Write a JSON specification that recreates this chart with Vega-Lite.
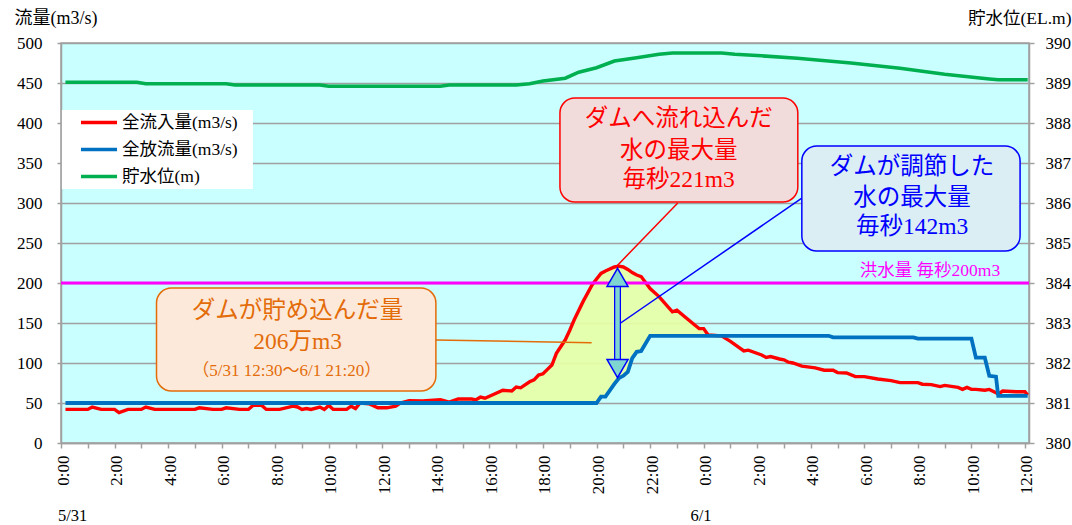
{"$schema":"https://vega.github.io/schema/vega-lite/v6.json","autosize":"none","width":968,"height":400,"padding":{"left":61,"top":43,"right":43,"bottom":82},"background":"white",
"config":{"font":"Liberation Serif, Noto Sans CJK JP","view":{"fill":"#c9ffff","stroke":"#a0a0a0","strokeWidth":1.5}},
"datasets":{
"flow":[
{"t":"2021-05-31T00:10","inflow":42,"outflow":50},{"t":"2021-05-31T01:00","inflow":42,"outflow":50},{"t":"2021-05-31T01:10","inflow":45,"outflow":50},{"t":"2021-05-31T01:30","inflow":42,"outflow":50},{"t":"2021-05-31T02:00","inflow":42,"outflow":50},{"t":"2021-05-31T02:10","inflow":38,"outflow":50},{"t":"2021-05-31T02:30","inflow":42,"outflow":50},{"t":"2021-05-31T03:00","inflow":42,"outflow":50},{"t":"2021-05-31T03:10","inflow":45,"outflow":50},{"t":"2021-05-31T03:30","inflow":42,"outflow":50},{"t":"2021-05-31T05:00","inflow":42,"outflow":50},{"t":"2021-05-31T05:10","inflow":44,"outflow":50},{"t":"2021-05-31T05:40","inflow":42,"outflow":50},{"t":"2021-05-31T06:00","inflow":42,"outflow":50},{"t":"2021-05-31T06:10","inflow":44,"outflow":50},{"t":"2021-05-31T06:40","inflow":42,"outflow":50},{"t":"2021-05-31T07:00","inflow":42,"outflow":50},{"t":"2021-05-31T07:10","inflow":47,"outflow":50},{"t":"2021-05-31T07:30","inflow":47,"outflow":50},{"t":"2021-05-31T07:40","inflow":42,"outflow":50},{"t":"2021-05-31T08:10","inflow":42,"outflow":50},{"t":"2021-05-31T08:40","inflow":46,"outflow":50},{"t":"2021-05-31T08:50","inflow":45,"outflow":50},{"t":"2021-05-31T09:00","inflow":42,"outflow":50},{"t":"2021-05-31T09:10","inflow":43,"outflow":50},{"t":"2021-05-31T09:20","inflow":42,"outflow":50},{"t":"2021-05-31T09:40","inflow":45,"outflow":50},{"t":"2021-05-31T09:50","inflow":42,"outflow":50},{"t":"2021-05-31T10:00","inflow":47,"outflow":50},{"t":"2021-05-31T10:10","inflow":42,"outflow":50},{"t":"2021-05-31T10:40","inflow":42,"outflow":50},{"t":"2021-05-31T10:50","inflow":46,"outflow":50},{"t":"2021-05-31T11:00","inflow":43,"outflow":50},{"t":"2021-05-31T11:10","inflow":50,"outflow":50},{"t":"2021-05-31T11:30","inflow":49,"outflow":50},{"t":"2021-05-31T11:50","inflow":44,"outflow":50},{"t":"2021-05-31T12:10","inflow":44,"outflow":50},{"t":"2021-05-31T12:30","inflow":46,"outflow":50},{"t":"2021-05-31T12:40","inflow":50,"outflow":50},{"t":"2021-05-31T13:00","inflow":53,"outflow":50},{"t":"2021-05-31T13:30","inflow":52.5,"outflow":50},{"t":"2021-05-31T14:10","inflow":54,"outflow":50},{"t":"2021-05-31T14:30","inflow":51,"outflow":50},{"t":"2021-05-31T14:50","inflow":55,"outflow":50},{"t":"2021-05-31T15:20","inflow":55,"outflow":50},{"t":"2021-05-31T15:30","inflow":54,"outflow":50},{"t":"2021-05-31T15:40","inflow":57.5,"outflow":50},{"t":"2021-05-31T15:50","inflow":56,"outflow":50},{"t":"2021-05-31T16:10","inflow":61,"outflow":50},{"t":"2021-05-31T16:30","inflow":66,"outflow":50},{"t":"2021-05-31T16:50","inflow":65,"outflow":50},{"t":"2021-05-31T17:00","inflow":70,"outflow":50},{"t":"2021-05-31T17:10","inflow":69,"outflow":50},{"t":"2021-05-31T17:30","inflow":76.6,"outflow":50},{"t":"2021-05-31T17:40","inflow":79,"outflow":50},{"t":"2021-05-31T17:50","inflow":85,"outflow":50},{"t":"2021-05-31T18:00","inflow":86.5,"outflow":50},{"t":"2021-05-31T18:10","inflow":92,"outflow":50},{"t":"2021-05-31T18:20","inflow":97.5,"outflow":50},{"t":"2021-05-31T18:30","inflow":112,"outflow":50},{"t":"2021-05-31T18:50","inflow":129,"outflow":50},{"t":"2021-05-31T19:00","inflow":141,"outflow":50},{"t":"2021-05-31T19:10","inflow":154,"outflow":50},{"t":"2021-05-31T19:30","inflow":177,"outflow":50},{"t":"2021-05-31T19:50","inflow":197.5,"outflow":50},{"t":"2021-05-31T20:00","inflow":205,"outflow":50},{"t":"2021-05-31T20:10","inflow":212,"outflow":58},{"t":"2021-05-31T20:20","inflow":215,"outflow":58},{"t":"2021-05-31T20:40","inflow":220,"outflow":74},{"t":"2021-05-31T20:50","inflow":221,"outflow":81},{"t":"2021-05-31T21:00","inflow":220,"outflow":84},{"t":"2021-05-31T21:10","inflow":217,"outflow":89},{"t":"2021-05-31T21:20","inflow":213,"outflow":106},{"t":"2021-05-31T21:30","inflow":210,"outflow":114},{"t":"2021-05-31T21:40","inflow":208,"outflow":115},{"t":"2021-05-31T22:00","inflow":193,"outflow":134},{"t":"2021-05-31T22:20","inflow":183,"outflow":134},{"t":"2021-05-31T22:50","inflow":164,"outflow":134},{"t":"2021-05-31T23:00","inflow":166,"outflow":134},{"t":"2021-05-31T23:40","inflow":147.5,"outflow":134},{"t":"2021-05-31T23:50","inflow":143,"outflow":134},{"t":"2021-06-01T00:00","inflow":143,"outflow":134},{"t":"2021-06-01T00:10","inflow":135,"outflow":134},{"t":"2021-06-01T00:40","inflow":134,"outflow":134},{"t":"2021-06-01T01:00","inflow":127,"outflow":134},{"t":"2021-06-01T01:30","inflow":115,"outflow":134},{"t":"2021-06-01T01:40","inflow":116,"outflow":134},{"t":"2021-06-01T02:10","inflow":110,"outflow":134},{"t":"2021-06-01T02:20","inflow":107,"outflow":134},{"t":"2021-06-01T02:30","inflow":108,"outflow":134},{"t":"2021-06-01T02:50","inflow":105,"outflow":134},{"t":"2021-06-01T03:00","inflow":104,"outflow":134},{"t":"2021-06-01T03:10","inflow":101,"outflow":134},{"t":"2021-06-01T03:20","inflow":100,"outflow":134},{"t":"2021-06-01T03:40","inflow":96,"outflow":134},{"t":"2021-06-01T04:10","inflow":94,"outflow":134},{"t":"2021-06-01T04:30","inflow":91,"outflow":134},{"t":"2021-06-01T04:40","inflow":91,"outflow":134},{"t":"2021-06-01T04:50","inflow":91,"outflow":132},{"t":"2021-06-01T05:00","inflow":88,"outflow":132},{"t":"2021-06-01T05:20","inflow":87.5,"outflow":132},{"t":"2021-06-01T05:40","inflow":83,"outflow":132},{"t":"2021-06-01T06:00","inflow":83,"outflow":132},{"t":"2021-06-01T06:30","inflow":80,"outflow":132},{"t":"2021-06-01T07:00","inflow":78,"outflow":132},{"t":"2021-06-01T07:20","inflow":75.5,"outflow":132},{"t":"2021-06-01T07:50","inflow":75.5,"outflow":132},{"t":"2021-06-01T08:00","inflow":75.5,"outflow":130.5},{"t":"2021-06-01T08:10","inflow":73.5,"outflow":130.5},{"t":"2021-06-01T08:30","inflow":73,"outflow":130.5},{"t":"2021-06-01T08:50","inflow":70.5,"outflow":130.5},{"t":"2021-06-01T09:00","inflow":72,"outflow":130.5},{"t":"2021-06-01T09:30","inflow":69.5,"outflow":130.5},{"t":"2021-06-01T09:40","inflow":67,"outflow":130.5},{"t":"2021-06-01T09:50","inflow":69.5,"outflow":130.5},{"t":"2021-06-01T10:00","inflow":67,"outflow":130.5},{"t":"2021-06-01T10:10","inflow":67,"outflow":106.6},{"t":"2021-06-01T10:30","inflow":66,"outflow":106.6},{"t":"2021-06-01T10:40","inflow":67,"outflow":84},{"t":"2021-06-01T10:55","inflow":63,"outflow":83},{"t":"2021-06-01T11:00","inflow":61,"outflow":59},{"t":"2021-06-01T11:10","inflow":65,"outflow":59},{"t":"2021-06-01T11:40","inflow":64,"outflow":59},{"t":"2021-06-01T12:00","inflow":64,"outflow":59},{"t":"2021-06-01T12:06","inflow":60,"outflow":59}
],
"level":[
{"t":"2021-05-31T00:10","level":389.02},{"t":"2021-05-31T02:50","level":389.02},{"t":"2021-05-31T03:10","level":388.98},{"t":"2021-05-31T06:10","level":388.98},{"t":"2021-05-31T06:30","level":388.95},{"t":"2021-05-31T09:40","level":388.95},{"t":"2021-05-31T10:00","level":388.92},{"t":"2021-05-31T14:10","level":388.92},{"t":"2021-05-31T14:30","level":388.95},{"t":"2021-05-31T17:00","level":388.95},{"t":"2021-05-31T17:30","level":388.98},{"t":"2021-05-31T18:00","level":389.05},{"t":"2021-05-31T18:50","level":389.12},{"t":"2021-05-31T19:20","level":389.27},{"t":"2021-05-31T20:00","level":389.38},{"t":"2021-05-31T20:40","level":389.55},{"t":"2021-05-31T21:30","level":389.63},{"t":"2021-05-31T22:20","level":389.72},{"t":"2021-05-31T22:50","level":389.75},{"t":"2021-06-01T00:40","level":389.75},{"t":"2021-06-01T01:10","level":389.72},{"t":"2021-06-01T02:10","level":389.68},{"t":"2021-06-01T03:30","level":389.62},{"t":"2021-06-01T05:30","level":389.5},{"t":"2021-06-01T07:20","level":389.37},{"t":"2021-06-01T09:00","level":389.22},{"t":"2021-06-01T10:40","level":389.1},{"t":"2021-06-01T11:00","level":389.08},{"t":"2021-06-01T12:06","level":389.08}
]},
"layer":[
{"data":{"values":[{"t":"2021-05-31T00:02","t2":"2021-05-31T07:10","v":416.25,"v2":317.5}]},"mark":{"type":"rect","fill":"#ffffff"},"encoding":{"x":{"field":"t","type":"temporal"},"x2":{"field":"t2"},"y":{"field":"v","type":"quantitative","scale":{"domain":[0,500],"nice":false},"axis":null},"y2":{"field":"v2"}}},
{"data":{"name":"flow"},"transform":[{"filter":{"field":"t","range":[{"year":2021,"month":5,"date":31,"hours":12,"minutes":40},{"year":2021,"month":6,"date":1,"hours":0,"minutes":40}]}}],"mark":{"type":"area","fill":"#e6ffa6","opacity":0.92},"encoding":{"x":{"field":"t","type":"temporal"},"y":{"field":"inflow","type":"quantitative","scale":{"domain":[0,500],"nice":false},"axis":null},"y2":{"field":"outflow"}}},
{"data":{"name":"flow"},"mark":{"type":"line","strokeWidth":3.4},"encoding":{
"x":{"field":"t","type":"temporal","title":null,"scale":{"domain":[{"year":2021,"month":5,"date":31,"hours":0,"minutes":0},{"year":2021,"month":6,"date":1,"hours":12,"minutes":9}]},"axis":{"format":"%-H:%M","tickCount":36,"labelExpr":"hours(datum.value)%2==0?datum.label:''","labelAngle":-90,"labelFontSize":17,"labelColor":"#000","labelOverlap":false,"labelPadding":7,"labelOffset":2,"tickColor":"#a0a0a0","tickWidth":1.5,"tickSize":5,"domainColor":"#a0a0a0","domainWidth":1.5,"grid":false,"encoding":{"ticks":{"update":{"y":{"signal":"hours(datum.value)%2==0?-5:0"}}}}}},
"y":{"field":"inflow","type":"quantitative","scale":{"domain":[0,500],"nice":false},"axis":{"values":[0,50,100,150,200,250,300,350,400,450,500],"title":"流量(m3/s)","titleFontSize":18,"titleFontWeight":"normal","titleColor":"#000","titleAngle":0,"titleAlign":"left","titleBaseline":"middle","titleX":-47,"titleY":-25,"labelFontSize":17,"labelColor":"#000","labelPadding":15,"tickSize":4,"tickColor":"#a0a0a0","tickWidth":1.5,"domainColor":"#a0a0a0","domainWidth":1.5,"grid":true,"gridColor":"#a0a0a0","gridWidth":1.5}},
"color":{"datum":"全流入量(m3/s)","scale":{"domain":["全流入量(m3/s)","全放流量(m3/s)","貯水位(m)"],"range":["#ff0000","#0070c0","#00b050"]},"legend":{"title":null,"orient":"none","legendX":18,"legendY":66,"padding":0,"symbolType":"stroke","symbolStrokeWidth":3.4,"symbolSize":1300,"clipHeight":27,"rowPadding":0,"labelFontSize":17.5,"labelColor":"#000","labelOffset":3,"zindex":1}}}},
{"data":{"values":[{"threshold":200}]},"mark":{"type":"rule","stroke":"#ff00ff","strokeWidth":3},"encoding":{"y":{"field":"threshold","type":"quantitative","scale":{"domain":[0,500],"nice":false},"axis":null}}},
{"data":{"name":"flow"},"mark":{"type":"line","strokeWidth":3.8},"encoding":{"x":{"field":"t","type":"temporal"},"y":{"field":"outflow","type":"quantitative","scale":{"domain":[0,500],"nice":false},"axis":null},"color":{"datum":"全放流量(m3/s)"}}},
{"data":{"values":[{"t":"2021-05-31T23:02","v":300,"t2":"2021-05-31T20:45","v2":221}]},"mark":{"type":"rule","stroke":"#ff0000","strokeWidth":1.5},"encoding":{"x":{"field":"t","type":"temporal"},"x2":{"field":"t2"},"y":{"field":"v","type":"quantitative","scale":{"domain":[0,500],"nice":false},"axis":null},"y2":{"field":"v2"}}},
{"data":{"values":[{"t":"2021-06-01T03:40","v":306,"t2":"2021-05-31T20:54","v2":150}]},"mark":{"type":"rule","stroke":"#0000ff","strokeWidth":1.5},"encoding":{"x":{"field":"t","type":"temporal"},"x2":{"field":"t2"},"y":{"field":"v","type":"quantitative","scale":{"domain":[0,500],"nice":false},"axis":null},"y2":{"field":"v2"}}},
{"data":{"values":[{"t":"2021-05-31T14:00","v":128.75,"t2":"2021-05-31T19:49","v2":125.4}]},"mark":{"type":"rule","stroke":"#e36c09","strokeWidth":1.5},"encoding":{"x":{"field":"t","type":"temporal"},"x2":{"field":"t2"},"y":{"field":"v","type":"quantitative","scale":{"domain":[0,500],"nice":false},"axis":null},"y2":{"field":"v2"}}},
{"data":{"values":[{"t":"2021-05-31T20:47","top":195,"bottom":105}]},"mark":{"type":"rule","stroke":"#0000ff","strokeWidth":7},"encoding":{"x":{"field":"t","type":"temporal"},"y":{"field":"top","type":"quantitative","scale":{"domain":[0,500],"nice":false},"axis":null},"y2":{"field":"bottom"}}},
{"data":{"values":[{"t":"2021-05-31T20:47","top":196,"bottom":104}]},"mark":{"type":"rule","stroke":"#7fd6d0","strokeWidth":4.5},"encoding":{"x":{"field":"t","type":"temporal"},"y":{"field":"top","type":"quantitative","scale":{"domain":[0,500],"nice":false},"axis":null},"y2":{"field":"bottom"}}},
{"data":{"values":[{"t":"2021-05-31T20:47","v":207}]},"mark":{"type":"point","shape":"triangle-up","size":440,"filled":true,"fill":"#7fd6d0","stroke":"#0000ff","strokeWidth":1.5,"opacity":1},"encoding":{"x":{"field":"t","type":"temporal"},"y":{"field":"v","type":"quantitative","scale":{"domain":[0,500],"nice":false},"axis":null}}},
{"data":{"values":[{"t":"2021-05-31T20:47","v":93}]},"mark":{"type":"point","shape":"triangle-down","size":440,"filled":true,"fill":"#7fd6d0","stroke":"#0000ff","strokeWidth":1.5,"opacity":1},"encoding":{"x":{"field":"t","type":"temporal"},"y":{"field":"v","type":"quantitative","scale":{"domain":[0,500],"nice":false},"axis":null}}},
{"data":{"values":[{"t":"2021-05-31T18:38","t2":"2021-06-01T03:31","v":431.25,"v2":301.25}]},"mark":{"type":"rect","fill":"#f2dcdb","stroke":"#ff0000","strokeWidth":1.5,"cornerRadius":15},"encoding":{"x":{"field":"t","type":"temporal"},"x2":{"field":"t2"},"y":{"field":"v","type":"quantitative","scale":{"domain":[0,500],"nice":false},"axis":null},"y2":{"field":"v2"}}},
{"data":{"values":[{"t":"2021-06-01T03:40","t2":"2021-06-01T11:49","v":371.25,"v2":240}]},"mark":{"type":"rect","fill":"#dbeef4","stroke":"#0000ff","strokeWidth":1.5,"cornerRadius":15},"encoding":{"x":{"field":"t","type":"temporal"},"x2":{"field":"t2"},"y":{"field":"v","type":"quantitative","scale":{"domain":[0,500],"nice":false},"axis":null},"y2":{"field":"v2"}}},
{"data":{"values":[{"t":"2021-05-31T03:34","t2":"2021-05-31T14:00","v":193.75,"v2":65}]},"mark":{"type":"rect","fill":"#fde9d9","stroke":"#e36c09","strokeWidth":1.5,"cornerRadius":15},"encoding":{"x":{"field":"t","type":"temporal"},"x2":{"field":"t2"},"y":{"field":"v","type":"quantitative","scale":{"domain":[0,500],"nice":false},"axis":null},"y2":{"field":"v2"}}},
{"data":{"values":[{"label":"ダムへ流れ込んだ","t":"2021-05-31T23:04","v":405},{"label":"水の最大量","t":"2021-05-31T23:04","v":365},{"label":"毎秒221m3","t":"2021-05-31T23:04","v":328.75}]},"mark":{"type":"text","fontSize":23.5,"color":"#ff0000","align":"center","baseline":"middle"},"encoding":{"x":{"field":"t","type":"temporal"},"y":{"field":"v","type":"quantitative","scale":{"domain":[0,500],"nice":false},"axis":null},"text":{"field":"label"}}},
{"data":{"values":[{"label":"ダムが調節した","t":"2021-06-01T07:47","v":345},{"label":"水の最大量","t":"2021-06-01T07:47","v":306.25},{"label":"毎秒142m3","t":"2021-06-01T07:47","v":270}]},"mark":{"type":"text","fontSize":23.5,"color":"#0000ff","align":"center","baseline":"middle"},"encoding":{"x":{"field":"t","type":"temporal"},"y":{"field":"v","type":"quantitative","scale":{"domain":[0,500],"nice":false},"axis":null},"text":{"field":"label"}}},
{"data":{"values":[{"label":"ダムが貯め込んだ量","t":"2021-05-31T08:50","v":165},{"label":"206万m3","t":"2021-05-31T08:50","v":126.25}]},"mark":{"type":"text","fontSize":23.5,"color":"#e36c09","align":"center","baseline":"middle"},"encoding":{"x":{"field":"t","type":"temporal"},"y":{"field":"v","type":"quantitative","scale":{"domain":[0,500],"nice":false},"axis":null},"text":{"field":"label"}}},
{"data":{"values":[{"label":"（5/31 12:30〜6/1  21:20）","t":"2021-05-31T08:26","v":90}]},"mark":{"type":"text","fontSize":17,"color":"#e36c09","align":"center","baseline":"middle"},"encoding":{"x":{"field":"t","type":"temporal"},"y":{"field":"v","type":"quantitative","scale":{"domain":[0,500],"nice":false},"axis":null},"text":{"field":"label"}}},
{"data":{"values":[{"label":"洪水量 毎秒200m3","t":"2021-06-01T08:27","v":215}]},"mark":{"type":"text","fontSize":17.5,"color":"#ff00ff","align":"center","baseline":"middle"},"encoding":{"x":{"field":"t","type":"temporal"},"y":{"field":"v","type":"quantitative","scale":{"domain":[0,500],"nice":false},"axis":null},"text":{"field":"label"}}},
{"data":{"values":[{"label":"5/31","t":"2021-05-31T00:26","v":-91},{"label":"6/1","t":"2021-05-31T23:54","v":-91}]},"mark":{"type":"text","fontSize":16.5,"color":"#000","align":"center","baseline":"middle"},"encoding":{"x":{"field":"t","type":"temporal"},"y":{"field":"v","type":"quantitative","scale":{"domain":[0,500],"nice":false},"axis":null},"text":{"field":"label"}}},
{"data":{"name":"level"},"mark":{"type":"line","strokeWidth":3.6},"encoding":{"x":{"field":"t","type":"temporal"},"y":{"field":"level","type":"quantitative","scale":{"domain":[380,390],"nice":false},"axis":{"orient":"right","values":[380,381,382,383,384,385,386,387,388,389,390],"format":"d","title":"貯水位(EL.m)","titleFontSize":17.5,"titleFontWeight":"normal","titleColor":"#000","titleAngle":0,"titleAlign":"right","titleBaseline":"middle","titleX":42,"titleY":-25,"labelFontSize":17,"labelColor":"#000","labelPadding":11,"tickSize":5,"tickColor":"#a0a0a0","tickWidth":1.5,"domainColor":"#a0a0a0","domainWidth":1.5,"grid":false}},"color":{"datum":"貯水位(m)"}}}
],
"resolve":{"scale":{"y":"independent"}}}
